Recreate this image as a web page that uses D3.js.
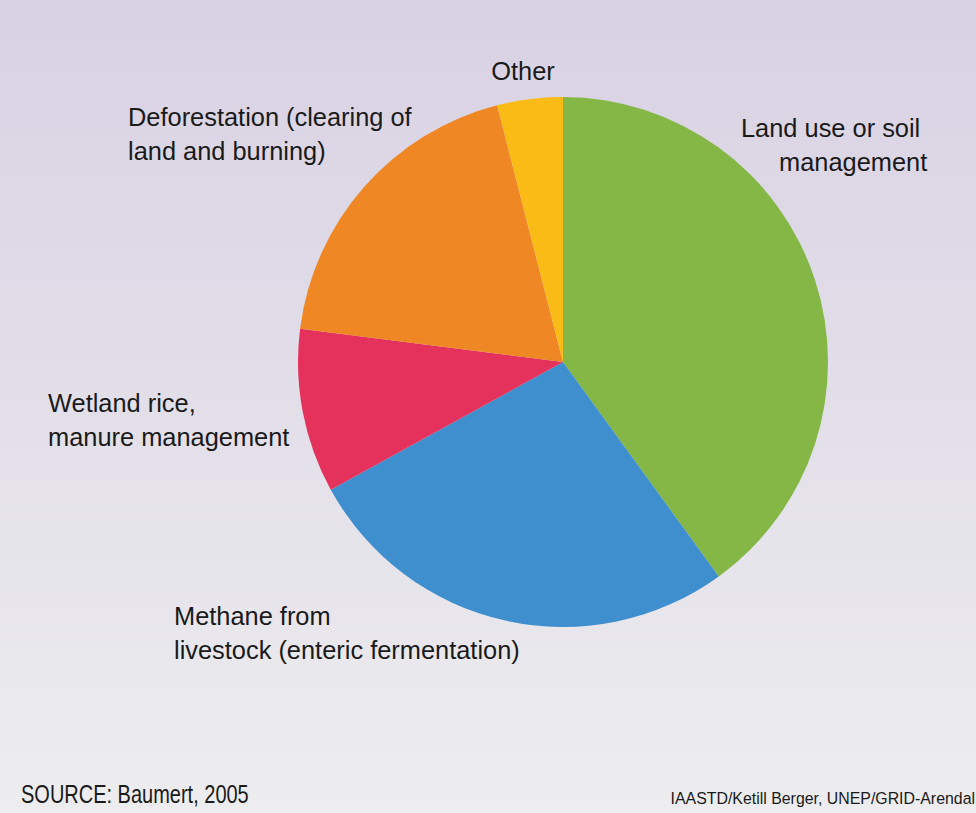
<!DOCTYPE html>
<html>
<head>
    <meta charset="UTF-8">
    <title>Agricultural emissions pie</title>
    <script src="https://d3js.org/d3.v7.min.js"></script>
    <style>
        body { margin: 0; }
        text { font-family: "Liberation Sans", Arial, sans-serif; fill: #1a1a1a; }
    </style>
</head>
<body>
    <div id="chart"></div>
    <script>
        // slices, clockwise from 12 o'clock (percent)
        var categories = ["Land use or soil management", "Methane from livestock (enteric fermentation)",
                          "Wetland rice, manure management", "Deforestation (clearing of land and burning)", "Other"];
        var shares = [40, 27, 10, 19, 4];
        var colors = ["#84b746", "#3f8fce", "#e5325c", "#ef8724", "#fbbb16"];

        // label lines as they are broken in the picture
        var labelLines = [
            ["Land use or soil", "management"],
            ["Methane from", "livestock (enteric fermentation)"],
            ["Wetland rice,", "manure management"],
            ["Deforestation (clearing of", "land and burning)"],
            ["Other"]
        ];

        var width = 976, height = 813;
        var cx = 563, cy = 362, radius = 265;

        var svg = d3.select("#chart")
            .append("svg")
            .attr("width", width)
            .attr("height", height);

        // background gradient
        var grad = svg.append("defs").append("linearGradient")
            .attr("id", "bg")
            .attr("x1", 0).attr("y1", 0).attr("x2", 0).attr("y2", 1);
        grad.append("stop").attr("offset", "0%").attr("stop-color", "#d8d1e3");
        grad.append("stop").attr("offset", "100%").attr("stop-color", "#ededef");

        svg.append("rect")
            .attr("width", width)
            .attr("height", height)
            .attr("fill", "url(#bg)");

        var pie = d3.pie().sort(null).value(function(d) { return d; });
        var arc = d3.arc().innerRadius(0).outerRadius(radius);

        var g = svg.append("g")
            .attr("transform", "translate(" + cx + "," + cy + ")");

        g.selectAll("path")
            .data(pie(shares))
            .enter()
            .append("path")
            .attr("d", arc)
            .attr("fill", function(d, i) { return colors[i]; });

        // label placement (left x, first baseline) - placed by hand like the original
        var labelPos = [
            {x: 741, y: 137, anchor: "start", dx: [0, 38]},
            {x: 174, y: 625, anchor: "start", dx: [0, 0]},
            {x: 48, y: 412, anchor: "start", dx: [0, 0]},
            {x: 128, y: 126, anchor: "start", dx: [0, 0]},
            {x: 523, y: 80, anchor: "middle", dx: [0]}
        ];

        labelLines.forEach(function(lines, i) {
            var p = labelPos[i];
            var t = svg.append("text")
                .attr("text-anchor", p.anchor)
                .attr("font-size", 25.4);
            lines.forEach(function(line, j) {
                t.append("tspan")
                    .attr("x", p.x + p.dx[j])
                    .attr("y", p.y + j * 34)
                    .text(line);
            });
        });

        // footer, condensed like the original
        svg.append("text")
            .attr("font-size", 25)
            .attr("transform", "translate(21,803) scale(0.8,1)")
            .text("SOURCE: Baumert, 2005");

        svg.append("text")
            .attr("text-anchor", "end")
            .attr("font-size", 17)
            .attr("transform", "translate(975,804) scale(0.935,1)")
            .text("IAASTD/Ketill Berger, UNEP/GRID-Arendal");
    </script>
</body>
</html>
